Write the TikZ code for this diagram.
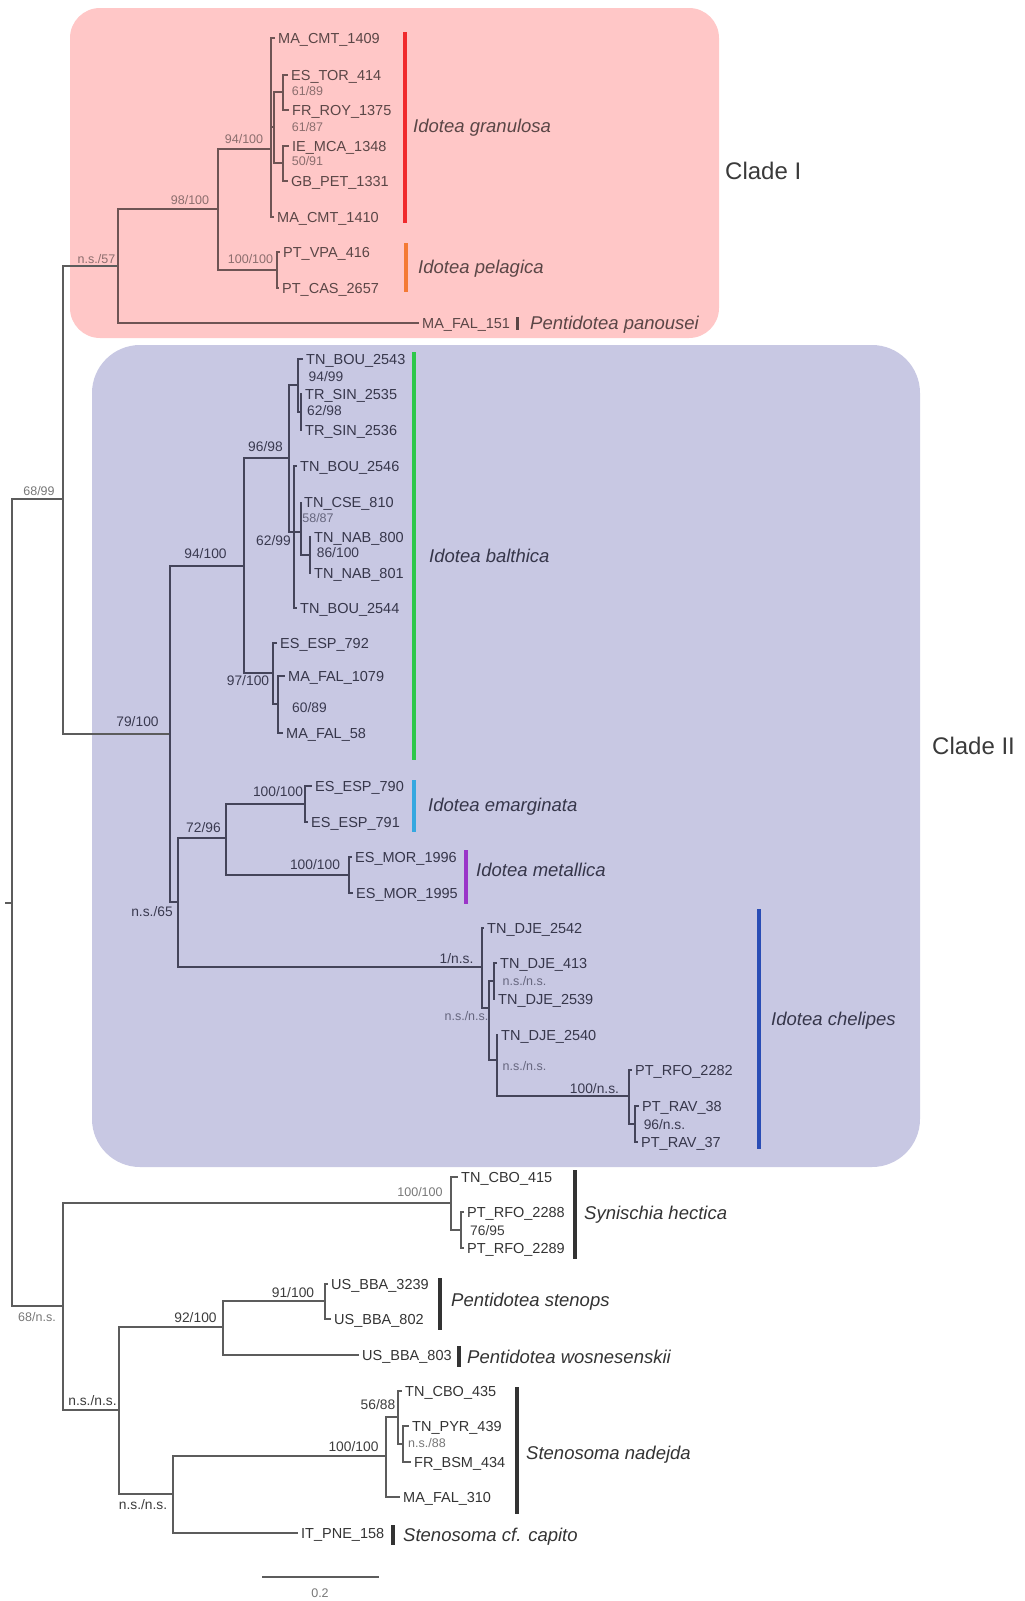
\documentclass[tikz,border=0pt]{standalone}
\usepackage{fontspec}
\setmainfont{Liberation Sans}
\definecolor{pinkfill}{HTML}{FFC7C7}
\definecolor{bluefill}{HTML}{C8C8E3}
\definecolor{oL}{HTML}{5C5C5C}
\definecolor{oT}{HTML}{333333}
\definecolor{oS}{HTML}{777777}
\definecolor{oN}{HTML}{3C3C3C}
\definecolor{pL}{HTML}{6E5454}
\definecolor{pT}{HTML}{5A4646}
\definecolor{pS}{HTML}{8C6E6E}
\definecolor{bL}{HTML}{44445A}
\definecolor{bT}{HTML}{36364A}
\definecolor{bS}{HTML}{66667E}
\definecolor{bN}{HTML}{3A3A50}
\definecolor{redbar}{HTML}{F02A2D}
\definecolor{orangebar}{HTML}{F47A35}
\definecolor{greenbar}{HTML}{2DC84A}
\definecolor{ltbluebar}{HTML}{35A8E0}
\definecolor{purplebar}{HTML}{9A35C8}
\definecolor{dkbluebar}{HTML}{2A4DB5}
\definecolor{blackbar}{HTML}{333333}
\definecolor{cladecol}{HTML}{3A3A3A}
\colorlet{lc}{oL}\colorlet{tc}{oT}\colorlet{sc}{oS}\colorlet{nc}{oN}
\newcommand\mytip[5]{\node[tip] (#1) at (#3-4,#4) {#2};\draw[br] (#5) |- (#1.west);}
\begin{document}
\begin{tikzpicture}[x=1pt,y=-1pt,
  br/.style={draw=lc, line width=1.2pt},
  tip/.style={anchor=west, inner xsep=3pt, inner ysep=0pt, text height=10.4pt, text depth=0pt, text=tc, font=\fontsize{14.5}{16}\selectfont},
  supS/.style={inner sep=0pt, text height=8.9pt, text depth=0pt, text=sc, font=\fontsize{12.5}{14}\selectfont},
  supN/.style={inner sep=0pt, text height=9.9pt, text depth=0pt, text=nc, font=\fontsize{13.8}{15}\selectfont},
  spc/.style={anchor=west, inner sep=0pt, text height=13.2pt, text depth=0pt, text=tc, font=\fontsize{18.5}{20}\selectfont\itshape},
  bar/.style={line width=3.5pt},
  kbar/.style={line width=4pt, draw=blackbar},
  clade/.style={anchor=west, inner sep=0pt, text height=17.2pt, text depth=0pt, text=cladecol, font=\fontsize{24}{26}\selectfont}]
\useasboundingbox (0,0) rectangle (1025,1601);
\fill[pinkfill, rounded corners=30pt] (70,8) rectangle (719,338);
\fill[bluefill, rounded corners=48pt] (92,345) rectangle (920,1167);

% internal nodes
\coordinate (stub) at (5,903);
\coordinate (R0) at (12,903);
\coordinate (A) at (63,499);
\coordinate (R) at (63,1306);
\coordinate (B) at (118,266);
\coordinate (C) at (218,209);
\coordinate (D) at (271,149);
\coordinate (E) at (274,127);
\coordinate (E1) at (283,92);
\coordinate (E2) at (283,163);
\coordinate (Pel) at (277,270);
\coordinate (F) at (170,734);
\coordinate (G) at (244,566);
\coordinate (H) at (289,458);
\coordinate (H1) at (298,385);
\coordinate (H1a) at (301,412);
\coordinate (H2) at (294,532);
\coordinate (H2a) at (301,532);
\coordinate (H2b) at (310,555);
\coordinate (I) at (273,673);
\coordinate (I1) at (278,704);
\coordinate (J) at (178,902);
\coordinate (K) at (226,838);
\coordinate (Em) at (305,804);
\coordinate (Me) at (349,875);
\coordinate (L) at (482,967);
\coordinate (M) at (489,1008);
\coordinate (N) at (494,981);
\coordinate (O) at (497,1060);
\coordinate (P) at (629,1096);
\coordinate (Q) at (635,1124);
\coordinate (Sy) at (451,1203);
\coordinate (Sy1) at (461,1230);
\coordinate (S) at (119,1410);
\coordinate (T) at (223,1327);
\coordinate (U) at (325,1301);
\coordinate (V) at (173,1494);
\coordinate (W) at (386,1456);
\coordinate (X) at (398,1417);
\coordinate (Y) at (403,1444);

% ---------- outside ----------
\draw[br] (stub) -- (R0);
\draw[br] (R0) |- (A);
\draw[br] (R0) |- (R);
\draw[br] (A) |- (B);
\draw[br] (A) |- (F);
\node[supS] (s6899) at (39,491) {68/99};
\node[supS] (s68ns) at (37,1317) {68/n.s.};
\draw[br] (R) |- (Sy);
\draw[br] (R) |- (S);
\draw[br] (Sy) |- (Sy1);
\mytip{t32}{TN\_CBO\_415}{462}{1177}{Sy}
\mytip{t33}{PT\_RFO\_2288}{468}{1212}{Sy1}
\mytip{t34}{PT\_RFO\_2289}{468}{1248}{Sy1}
\node[supS] (s100sy) at (420,1192) {100/100};
\node[supN] (s7695) at (487.5,1231) {76/95};
\draw[br] (S) |- (T);
\draw[br] (S) |- (V);
\draw[br] (T) |- (U);
\mytip{t35}{US\_BBA\_3239}{332}{1284}{U}
\mytip{t36}{US\_BBA\_802}{335}{1319}{U}
\mytip{t37}{US\_BBA\_803}{363}{1355}{T}
\draw[br] (V) |- (W);
\draw[br] (W) |- (X);
\draw[br] (X) |- (Y);
\mytip{t38}{TN\_CBO\_435}{406}{1391}{X}
\mytip{t39}{TN\_PYR\_439}{413}{1426}{Y}
\mytip{t40}{FR\_BSM\_434}{415}{1462}{Y}
\mytip{t41}{MA\_FAL\_310}{404}{1497}{W}
\mytip{t42}{IT\_PNE\_158}{302}{1533}{V}
\node[supN] (snsS) at (92.5,1401) {n.s./n.s.};
\node[supN] (s92) at (195.5,1318) {92/100};
\node[supN] (s91) at (293,1293) {91/100};
\node[supN] (snsV) at (143,1505) {n.s./n.s.};
\node[supN] (s100W) at (353.5,1447) {100/100};
\node[supN] (s5688) at (378,1405) {56/88};
\node[supS] (sns88) at (427,1443) {n.s./88};
\draw[kbar] (575,1170) -- (575,1259);
\draw[kbar] (440,1278) -- (440,1330);
\draw[kbar] (459,1346) -- (459,1367);
\draw[kbar] (517,1387) -- (517,1514);
\draw[kbar] (393,1525) -- (393,1545);
\node[spc] (sphect) at (584,1213) {Synischia hectica};
\node[spc] (spsten) at (451,1300) {Pentidotea stenops};
\node[spc] (spwosn) at (467,1357) {Pentidotea wosnesenskii};
\node[spc] (spnade) at (526,1453) {Stenosoma nadejda};
\node[spc] (spcapi) at (403,1535) {Stenosoma cf. capito};
\coordinate (sb1) at (262,1577);
\coordinate (sb2) at (379,1577);
\draw[draw=oL, line width=1.1pt] (sb1) -- (sb2);
\node[supS] (sbl) at (320,1593) {0.2};

% ---------- clade I ----------
\begin{scope}
\colorlet{lc}{pL}\colorlet{tc}{pT}\colorlet{sc}{pS}\colorlet{nc}{pT}
\draw[br] (B) |- (C);
\draw[br] (C) |- (D);
\draw[br] (C) |- (Pel);
\draw[br] (D) |- (E);
\draw[br] (E) |- (E1);
\draw[br] (E) |- (E2);
\mytip{t1}{MA\_CMT\_1409}{279}{38}{D}
\mytip{t2}{ES\_TOR\_414}{292}{75}{E1}
\mytip{t3}{FR\_ROY\_1375}{293}{110}{E1}
\mytip{t4}{IE\_MCA\_1348}{293}{146}{E2}
\mytip{t5}{GB\_PET\_1331}{292}{181}{E2}
\mytip{t6}{MA\_CMT\_1410}{278}{217}{D}
\mytip{t7}{PT\_VPA\_416}{284}{252}{Pel}
\mytip{t8}{PT\_CAS\_2657}{283}{288}{Pel}
\mytip{t9}{MA\_FAL\_151}{423}{323}{B}
\node[supS] (sns57) at (96.5,259) {n.s./57};
\node[supS] (s98) at (190,200) {98/100};
\node[supS] (s94p) at (244,139) {94/100};
\node[supS] (s6189) at (307.5,91) {61/89};
\node[supS] (s6187) at (307.5,127) {61/87};
\node[supS] (s5091) at (307.5,161) {50/91};
\node[supS] (s100pel) at (250.5,259) {100/100};
\draw[bar, draw=redbar] (405,32) -- (405,223);
\draw[bar, draw=orangebar] (406,243) -- (406,292);
\draw[line width=3pt, draw=pT] (517,317) -- (517,330);
\node[spc] (spgran) at (413,126) {Idotea granulosa};
\node[spc] (sppela) at (418,267) {Idotea pelagica};
\node[spc] (sppano) at (530,323) {Pentidotea panousei};
\end{scope}
\node[clade] (cladeI) at (725,171) {Clade I};

% ---------- clade II ----------
\begin{scope}
\colorlet{lc}{bL}\colorlet{tc}{bT}\colorlet{sc}{bS}\colorlet{nc}{bN}
\draw[br] (F) |- (G);
\draw[br] (F) |- (J);
\draw[br] (G) |- (H);
\draw[br] (G) |- (I);
\draw[br] (H) |- (H1);
\draw[br] (H) |- (H2);
\draw[br] (H1) |- (H1a);
\draw[br] (H2) |- (H2a);
\draw[br] (H2a) |- (H2b);
\draw[br] (I) |- (I1);
\mytip{t10}{TN\_BOU\_2543}{307}{359}{H1}
\mytip{t11}{TR\_SIN\_2535}{306}{394}{H1a}
\mytip{t12}{TR\_SIN\_2536}{306}{430}{H1a}
\mytip{t13}{TN\_BOU\_2546}{301}{466}{H2}
\mytip{t14}{TN\_CSE\_810}{305}{502}{H2a}
\mytip{t15}{TN\_NAB\_800}{315}{537}{H2b}
\mytip{t16}{TN\_NAB\_801}{315}{573}{H2b}
\mytip{t17}{TN\_BOU\_2544}{301}{608}{H2}
\mytip{t18}{ES\_ESP\_792}{281}{643}{I}
\mytip{t19}{MA\_FAL\_1079}{289}{676}{I1}
\mytip{t20}{MA\_FAL\_58}{287}{733}{I1}
\draw[br] (J) |- (K);
\draw[br] (J) |- (L);
\draw[br] (K) |- (Em);
\draw[br] (K) |- (Me);
\mytip{t21}{ES\_ESP\_790}{316}{786}{Em}
\mytip{t22}{ES\_ESP\_791}{312}{822}{Em}
\mytip{t23}{ES\_MOR\_1996}{356}{857}{Me}
\mytip{t24}{ES\_MOR\_1995}{357}{893}{Me}
\draw[br] (L) |- (M);
\draw[br] (M) |- (N);
\draw[br] (M) |- (O);
\draw[br] (O) |- (P);
\draw[br] (P) |- (Q);
\mytip{t25}{TN\_DJE\_2542}{488}{928}{L}
\mytip{t26}{TN\_DJE\_413}{501}{963}{N}
\mytip{t27}{TN\_DJE\_2539}{499}{999}{N}
\mytip{t28}{TN\_DJE\_2540}{502}{1035}{O}
\mytip{t29}{PT\_RFO\_2282}{636}{1070}{P}
\mytip{t30}{PT\_RAV\_38}{643}{1106}{Q}
\mytip{t31}{PT\_RAV\_37}{642}{1142}{Q}
\node[supN] (s79) at (137.5,722) {79/100};
\node[supN] (s94b) at (205.5,554) {94/100};
\node[supN] (s9698) at (265.5,447) {96/98};
\node[supN] (s9499) at (326,377) {94/99};
\node[supN] (s6298) at (324.5,411) {62/98};
\node[supN] (s6299) at (273.5,541) {62/99};
\node[supS] (s5887) at (318,518) {58/87};
\node[supN] (s86) at (338,553) {86/100};
\node[supN] (s97) at (248,681) {97/100};
\node[supN] (s6089) at (309.5,708) {60/89};
\node[supN] (sns65) at (152,912) {n.s./65};
\node[supN] (s7296) at (203.5,828) {72/96};
\node[supN] (s100em) at (278,792) {100/100};
\node[supN] (s100me) at (315,865) {100/100};
\node[supN] (s1ns) at (456.5,959) {1/n.s.};
\node[supS] (snsM) at (466.5,1016) {n.s./n.s.};
\node[supS] (snsN) at (524.5,981) {n.s./n.s.};
\node[supS] (snsO) at (524.5,1066) {n.s./n.s.};
\node[supN] (s100ns) at (594.5,1089) {100/n.s.};
\node[supN] (s96ns) at (664.5,1125) {96/n.s.};
\draw[bar, draw=greenbar] (414,352) -- (414,760);
\draw[bar, draw=ltbluebar] (414,780) -- (414,832);
\draw[bar, draw=purplebar] (466,850) -- (466,904);
\draw[bar, draw=dkbluebar] (759,909) -- (759,1149);
\node[spc] (spbalt) at (429,556) {Idotea balthica};
\node[spc] (spemar) at (428,805) {Idotea emarginata};
\node[spc] (spmeta) at (476,870) {Idotea metallica};
\node[spc] (spchel) at (771,1019) {Idotea chelipes};
\end{scope}
\node[clade] (cladeII) at (932,746) {Clade II};
\end{tikzpicture}
\end{document}
